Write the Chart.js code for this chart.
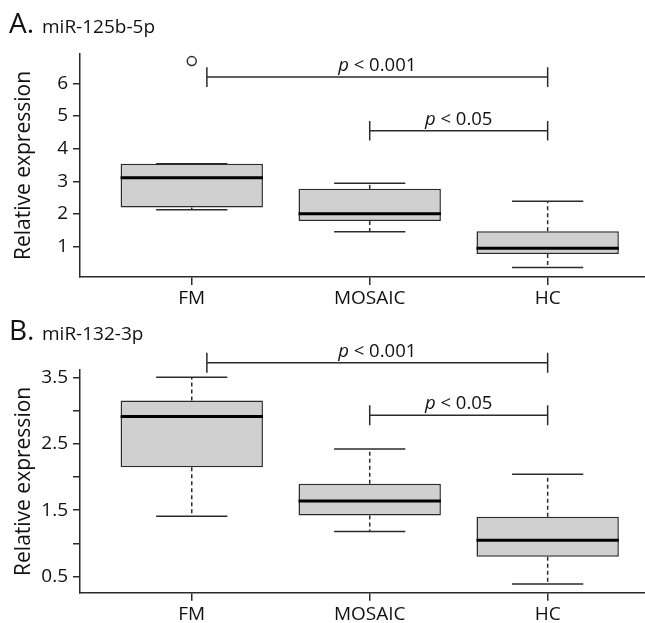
<!DOCTYPE html>
<html><head><meta charset="utf-8">
<script src="https://cdn.jsdelivr.net/npm/chart.js@4"></script>
<style>
html,body{margin:0;padding:0;background:#fff;overflow:hidden;}
#wrap{position:relative;width:645px;height:623px;overflow:hidden;background:#fff;}
canvas{position:absolute;left:0;display:block;}
</style></head><body>
<div id="wrap">
<canvas id="cA" width="645" height="310" style="top:0;width:645px;height:310px"></canvas>
<canvas id="cB" width="645" height="313" style="top:310px;width:645px;height:313px"></canvas>
</div>
<script>
// ---- data ----
const groups = ['FM', 'MOSAIC', 'HC'];
const groupPos = [1, 2, 3];

// Panel A: miR-125b-5p
const aLower  = [2.13, 1.46, 0.36];
const aQ1     = [2.20, 1.79, 0.78];
const aMedian = [3.11, 2.01, 0.95];
const aQ3     = [3.54, 2.77, 1.47];
const aUpper  = [3.54, 2.94, 2.39];
const aOutlierGroup = [0];
const aOutlierValue = [6.68];
const aTicks = [1, 2, 3, 4, 5, 6];
const aTickLabels = ['1', '2', '3', '4', '5', '6'];
const aSigFrom = [1.085, 2];
const aSigTo = [3, 3];
const aSigY = [6.19, 4.55];
const aSigText = ['0.001', '0.05'];

// Panel B: miR-132-3p
const bLower  = [1.41, 1.18, 0.39];
const bQ1     = [2.145, 1.42, 0.80];
const bMedian = [2.91, 1.64, 1.05];
const bQ3     = [3.15, 1.90, 1.40];
const bUpper  = [3.50, 2.42, 2.04];
const bTicks = [0.5, 1, 1.5, 2, 2.5, 3, 3.5];
const bTickLabels = ['0.5', '', '1.5', '', '2.5', '', '3.5'];
const bSigFrom = [1.085, 2];
const bSigTo = [3, 3];
const bSigY = [3.72, 2.93];
const bSigText = ['0.001', '0.05'];

const FONT = '"Open Sans", "DejaVu Sans", sans-serif';
const LINE = '#2b2b2b';

function buildDatasets(lower, q1, med, q3, upper, outG, outV, sigFrom, sigTo, sigY, tickH) {
  const ds = [];
  // boxes as floating bars
  ds.push({
    type: 'bar',
    data: groupPos.map((p, i) => ({ x: p, y: [q1[i], q3[i]] })),
    backgroundColor: '#d0d0d0',
    borderColor: LINE,
    borderWidth: 1.5,
    borderSkipped: false,
    barPercentage: 0.8,
    categoryPercentage: 1.0,
    order: 5
  });
  groupPos.forEach((p, i) => {
    // whiskers (dashed)
    ds.push({ data: [{ x: p, y: q3[i] }, { x: p, y: upper[i] }], borderDash: [4, 3], order: 6 });
    ds.push({ data: [{ x: p, y: q1[i] }, { x: p, y: lower[i] }], borderDash: [4, 3], order: 6 });
    // caps
    ds.push({ data: [{ x: p - 0.2, y: upper[i] }, { x: p + 0.2, y: upper[i] }], order: 6 });
    ds.push({ data: [{ x: p - 0.2, y: lower[i] }, { x: p + 0.2, y: lower[i] }], order: 6 });
    // median
    ds.push({ data: [{ x: p - 0.4, y: med[i] }, { x: p + 0.4, y: med[i] }], borderWidth: 3, borderColor: '#000', order: 1 });
  });
  // outliers
  if (outG.length) {
    ds.push({
      showLine: false,
      data: outG.map((g, k) => ({ x: groupPos[g], y: outV[k] })),
      pointRadius: 4.5, pointStyle: 'circle', pointBackgroundColor: 'rgba(0,0,0,0)',
      pointBorderColor: LINE, pointBorderWidth: 1.5, order: 0
    });
  }
  // significance brackets
  sigFrom.forEach((f, k) => {
    const t = sigTo[k], y = sigY[k];
    ds.push({
      clip: false, order: 0,
      data: [{ x: f, y: y + tickH }, { x: f, y: y - tickH }, { x: f, y: y }, { x: t, y: y },
             { x: t, y: y + tickH }, { x: t, y: y - tickH }]
    });
  });
  return ds;
}

function annotPlugin(letter, name, titleBase, sigFrom, sigTo, sigY, sigText) {
  return {
    id: 'annot',
    afterDraw(chart) {
      const ctx = chart.ctx, xs = chart.scales.x, ys = chart.scales.y;
      ctx.save();
      ctx.fillStyle = '#111';
      ctx.textBaseline = 'alphabetic';
      ctx.textAlign = 'left';
      ctx.font = '28px ' + FONT;
      ctx.fillText(letter, 9, titleBase);
      ctx.font = '19px ' + FONT;
      ctx.fillText(name, 42, titleBase);
      sigFrom.forEach((f, k) => {
        const cx = (xs.getPixelForValue(f) + xs.getPixelForValue(sigTo[k])) / 2;
        const py = ys.getPixelForValue(sigY[k]) - 6;
        ctx.font = 'italic 18.5px ' + FONT;
        const w1 = ctx.measureText('p').width;
        ctx.font = '18.5px ' + FONT;
        const rest = ' < ' + sigText[k];
        const w2 = ctx.measureText(rest).width;
        const x0 = cx - (w1 + w2) / 2;
        ctx.font = 'italic 18.5px ' + FONT;
        ctx.fillText('p', x0, py);
        ctx.font = '18.5px ' + FONT;
        ctx.fillText(rest, x0 + w1, py);
      });
      ctx.restore();
    }
  };
}

function makeChart(id, cfg) {
  return new Chart(document.getElementById(id), {
    type: 'scatter',
    data: { datasets: cfg.datasets },
    options: {
      responsive: false, maintainAspectRatio: false, animation: false, devicePixelRatio: 1,
      layout: { autoPadding: false, padding: { top: cfg.padTop, left: 0, right: 0, bottom: 0 } },
      datasets: {
        scatter: { showLine: true, pointRadius: 0, borderColor: LINE, borderWidth: 1.5, fill: false }
      },
      plugins: { legend: { display: false }, tooltip: { enabled: false } },
      scales: {
        x: {
          type: 'linear', min: 0.372, max: 3.547, offset: false,
          afterBuildTicks: s => { s.ticks = groupPos.map(v => ({ value: v })); },
          afterFit: s => { s.height = cfg.xHeight; s.paddingLeft = 0; s.paddingRight = 0; },
          ticks: { callback: (v, i) => groups[i], color: '#111', font: { family: FONT, size: 19 }, padding: 2, maxRotation: 0, autoSkip: false },
          grid: { offset: false, drawOnChartArea: false, drawTicks: true, tickLength: 8, color: LINE, lineWidth: 1.5 },
          border: { display: true, color: LINE, width: 1.5 }
        },
        y: {
          type: 'linear', min: cfg.yMin, max: cfg.yMax,
          afterBuildTicks: s => { s.ticks = cfg.ticks.map(v => ({ value: v })); },
          afterFit: s => { s.width = 80; s.paddingTop = 0; s.paddingBottom = 0; },
          ticks: { callback: (v, i) => cfg.tickLabels[i], color: '#111', font: { family: FONT, size: 19 }, padding: 5, autoSkip: false },
          grid: { drawOnChartArea: false, drawTicks: true, tickLength: 7, color: LINE, lineWidth: 1.5 },
          border: { display: true, color: LINE, width: 1.5 },
          title: { display: true, text: 'Relative expression', color: '#111', font: { family: FONT, size: 21 }, padding: { top: 11, bottom: 0 } }
        }
      }
    },
    plugins: [cfg.plugin]
  });
}

makeChart('cA', {
  datasets: buildDatasets(aLower, aQ1, aMedian, aQ3, aUpper, aOutlierGroup, aOutlierValue, aSigFrom, aSigTo, aSigY, 0.3),
  padTop: 54, xHeight: 33, yMin: 0.073, yMax: 6.897, ticks: aTicks, tickLabels: aTickLabels,
  plugin: annotPlugin('A.', 'miR-125b-5p', 33, aSigFrom, aSigTo, aSigY, aSigText)
});
makeChart('cB', {
  datasets: buildDatasets(bLower, bQ1, bMedian, bQ3, bUpper, [], [], bSigFrom, bSigTo, bSigY, 0.15),
  padTop: 60, xHeight: 30.3, yMin: 0.259, yMax: 3.61, ticks: bTicks, tickLabels: bTickLabels,
  plugin: annotPlugin('B.', 'miR-132-3p', 29.5, bSigFrom, bSigTo, bSigY, bSigText)
});
</script>
</body></html>
